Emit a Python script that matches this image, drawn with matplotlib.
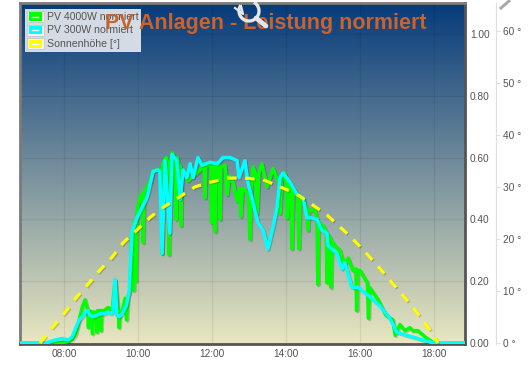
import numpy as np
import matplotlib
matplotlib.use('Agg')
import matplotlib.pyplot as plt
import matplotlib.patheffects as pe
from matplotlib.colors import LinearSegmentedColormap
from matplotlib.patches import Rectangle, Arc
from matplotlib.lines import Line2D

plt.rcParams['font.family'] = ['Liberation Sans', 'DejaVu Sans']

# hours of day / normalised power
green_h = [6.81, 7.89, 8.11, 8.22, 8.32, 8.41, 8.49, 8.57, 8.64, 8.66, 8.68, 8.75, 8.77, 8.79, 8.87, 8.89, 8.91, 8.98,
           9.0, 9.02, 9.08, 9.19, 9.3, 9.38, 9.47, 9.49, 9.51, 9.57, 9.65, 9.69, 9.73, 9.78, 9.83, 9.85, 9.88, 9.90,
           9.93, 9.95, 9.97, 10.0, 10.08, 10.12, 10.14, 10.16, 10.22, 10.32, 10.40, 10.49, 10.60, 10.63, 10.65, 10.67,
           10.76, 10.82, 10.84, 10.86, 10.93, 10.98, 11.03, 11.05, 11.10, 11.14, 11.16, 11.18, 11.27, 11.35, 11.54,
           11.68, 11.76, 11.79, 11.81, 11.83, 11.95, 11.97, 11.99, 12.01, 12.07, 12.09, 12.11, 12.16, 12.20, 12.22,
           12.24, 12.35, 12.41, 12.46, 12.57, 12.68, 12.75, 12.78, 12.82, 12.89, 12.98, 13.03, 13.06, 13.11, 13.17,
           13.22, 13.27, 13.35, 13.49, 13.65, 13.78, 13.82, 13.84, 13.88, 13.97, 14.01, 14.03, 14.06, 14.13, 14.16,
           14.19, 14.24, 14.32, 14.35, 14.38, 14.46, 14.57, 14.59, 14.62, 14.78, 14.84, 14.86, 14.88, 15.0, 15.09,
           15.11, 15.13, 15.20, 15.22, 15.24, 15.32, 15.46, 15.57, 15.68, 15.81, 15.89, 15.91, 15.93, 16.0, 16.20,
           16.23, 16.26, 16.49, 16.7, 16.89, 16.95, 17.08, 17.22, 17.35, 17.43, 17.57, 17.76, 18.0, 18.84]
green_v = [0, 0, .005, .012, .03, .075, .115, .14, .105, .05, .105, .10, .03, .10, .10, .035, .105, .105,
           .04, .105, .105, .115, .105, .205, .10, .05, .10, .10, .145, .075, .15, .17, .36, .35, .17, .38,
           .40, .20, .42, .445, .48, .48, .325, .49, .50, .52, .555, .56, .56, .56, .29, .58,
           .60, .58, .285, .58, .615, .60, .40, .60, .58, .57, .38, .55, .55, .525, .545,
           .56, .58, .57, .47, .57, .58, .58, .39, .57, .575, .36, .57, .58, .57, .40,
           .57, .575, .48, .54, .52, .46, .50, .41, .50, .495, .48, .335, .50, .57, .55,
           .42, .55, .58, .505, .565, .525, .52, .42, .53, .55, .52, .405, .51, .50, .305,
           .49, .495, .48, .305, .47, .47, .43, .365, .43, .43, .40, .19, .39, .38, .36,
           .195, .35, .34, .18, .33, .315, .30, .25, .275, .235, .24, .105, .235, .235, .195,
           .08, .18, .14, .09, .075, .025, .06, .04, .05, .04, .04, .02, 0, 0]

cyan_h = [6.81, 7.49, 7.76, 7.95, 8.11, 8.22, 8.32, 8.41, 8.49, 8.57, 8.65, 8.70, 8.78, 8.89, 8.97, 9.08, 9.19, 9.27,
          9.32, 9.38, 9.41, 9.43, 9.49, 9.57, 9.68, 9.76, 9.81, 9.84, 9.97, 10.24, 10.41, 10.54, 10.59, 10.65, 10.73,
          10.86, 10.92, 11.05, 11.14, 11.22, 11.32, 11.41, 11.49, 11.62, 11.73, 11.95, 12.14, 12.30, 12.49, 12.68,
          12.73, 12.89, 12.97, 13.11, 13.24, 13.38, 13.51, 13.65, 13.76, 13.84, 13.92, 14.11, 14.30, 14.46, 14.57,
          14.70, 14.84, 14.97, 15.11, 15.14, 15.38, 15.51, 15.59, 15.78, 15.95, 16.22, 16.54, 16.81, 17.0, 17.27,
          17.70, 18.0, 18.84]
cyan_v = [0, 0, .01, .015, .01, .02, .05, .075, .085, .10, .105, .09, .085, .09, .095, .095, .10, .095,
          .10, .205, .14, .09, .085, .095, .12, .165, .285, .36, .405, .47, .555, .56, .555, .29, .59,
          .355, .61, .59, .465, .56, .535, .58, .535, .60, .575, .585, .58, .60, .60, .59,
          .535, .59, .52, .455, .39, .365, .305, .375, .44, .535, .55, .52, .48, .47, .405,
          .405, .40, .365, .355, .315, .29, .24, .26, .18, .18, .155, .12, .08, .035, .025,
          .01, 0, 0]

# sun height in degrees
sun_h = [7.35, 7.70, 8.03, 8.35, 8.65, 8.97, 9.30, 9.59, 9.92, 10.32, 10.68, 11.08, 11.54, 11.95, 12.43, 12.89,
         13.38, 13.84, 14.24, 14.65, 15.11, 15.78, 16.14, 16.46, 16.76, 17.08, 17.41, 17.70, 17.97, 18.11]
sun_deg = [0, 3.1, 5.9, 8.9, 11.3, 14.0, 16.5, 19.2, 21.4, 24.1, 26.1, 27.9, 30.0, 30.9, 31.7, 31.7,
           31.4, 30.0, 28.8, 26.9, 24.6, 20.2, 17.5, 15.0, 12.5, 9.8, 7.1, 4.4, 1.8, 0]

x_ticks = [8, 10, 12, 14, 16, 18]
x_labels = ['08:00', '10:00', '12:00', '14:00', '16:00', '18:00']
y_ticks = [0, 0.2, 0.4, 0.6, 0.8, 1.0]
deg_ticks = [0, 10, 20, 30, 40, 50, 60]
legend_names = ['PV 4000W normiert', 'PV 300W normiert', 'Sonnenhöhe [°]']
legend_cols = ['#00ff00', '#00ffff', '#ffff00']

W, H = 530, 373
TXT = '#545454'

fig = plt.figure(figsize=(W / 100, H / 100), dpi=100, facecolor='white')
ax = fig.add_axes([20 / W, 1 - 344 / H, 445 / W, 341 / H])


def px(x, y):
    return x / W, 1 - y / H


# background gradient
cmap = LinearSegmentedColormap.from_list('bg', ['#053a7a', '#e9e7c0'])
ax.imshow(np.linspace(0, 1, 256).reshape(-1, 1), cmap=cmap, extent=[0, 1, 0, 1], transform=ax.transAxes,
          aspect='auto', zorder=0)

shadow = [pe.SimpleLineShadow(offset=(0.8, -0.8), alpha=0.18, shadow_color='k'), pe.Normal()]
ax.plot(green_h, green_v, color='#00ff00', lw=2.5, zorder=3, solid_joinstyle='round', path_effects=shadow)
ax.plot(cyan_h, cyan_v, color='#00ffff', lw=2.5, zorder=4, solid_joinstyle='round', path_effects=shadow)

ax.set_xlim(6.81, 18.84)
ax.set_ylim(-0.003, 1.10)
ax.set_xticks(x_ticks)
ax.set_xticklabels(x_labels)
ax.grid(True, color='#000000', alpha=0.07, lw=0.9)
for side in ax.spines:
    ax.spines[side].set_linewidth(2)
    ax.spines[side].set_color('#7a7a7a')
ax.spines['bottom'].set_color('#555555')
ax.spines['right'].set_color('#555555')

# second y axis for the sun
ax2 = ax.twinx()
ax2.set_ylim(-0.003 * 59.4, 1.10 * 59.4)
ax2.plot(sun_h, sun_deg, color='#ffff00', lw=2.3, dashes=(3.0, 2.7), zorder=5, dash_capstyle='butt',
         path_effects=shadow)
ax2.set_yticks(deg_ticks)
ax2.set_yticklabels(['%d °' % v for v in deg_ticks])
ax2.tick_params(axis='y', length=3, width=0.7, color='#dddddd', labelsize=7.3, labelcolor=TXT, pad=2)
for side in ['left', 'top', 'bottom']:
    ax2.spines[side].set_visible(False)
ax2.spines['right'].set_position(('outward', 22.3))
ax2.spines['right'].set_color('#e0e0e0')
ax2.spines['right'].set_linewidth(0.9)

# twinx moves the ticks of ax back to the left, so set them here
ax.set_yticks(y_ticks)
ax.set_yticklabels(['%.2f' % v for v in y_ticks])
ax.yaxis.tick_right()
ax.tick_params(axis='both', length=0, labelsize=7.3, labelcolor=TXT, pad=3.5)

# legend box, drawn by hand
fig.add_artist(Rectangle(px(25, 52), 116 / W, 43 / H, transform=fig.transFigure, fc='#dfe4ea', ec='none',
                         alpha=0.95, zorder=6))
for i, (name, col) in enumerate(zip(legend_names, legend_cols)):
    yc = 16.5 + i * 13.7
    fig.add_artist(Rectangle(px(26.5, yc + 5.5), 17 / W, 11 / H, transform=fig.transFigure, fc='#f4f4f4',
                             ec='#cccccc', lw=0.8, zorder=7))
    fig.add_artist(Rectangle(px(28.5, yc + 4), 13 / W, 8 / H, transform=fig.transFigure, fc=col, ec='none', zorder=8))
    x0, y0 = px(32, yc)
    x1, y1 = px(38, yc)
    fig.add_artist(Line2D([x0, x1], [y0, y1], color='white', lw=1, zorder=9))
    tx, ty = px(47, yc)
    fig.text(tx, ty, name, fontsize=7.6, color=TXT, va='center', ha='left', zorder=9)

# title sits on top of the legend
tx, ty = px(266, 23)
fig.text(tx, ty, 'PV Anlagen - Leistung normiert', fontsize=15.5, fontweight='bold', color='#c8622e',
         ha='center', va='center', zorder=10)

# zoom icon over the title
ax_icon = fig.add_axes([0, 0, 1, 1], zorder=11)
ax_icon.set_xlim(0, W)
ax_icon.set_ylim(H, 0)
ax_icon.axis('off')
ax_icon.add_patch(Arc((249, 11), 20, 20, theta1=-60, theta2=215, color='#e6e6e6', lw=2.4))
ax_icon.plot([256, 266], [18, 26], color='#e6e6e6', lw=3.4, solid_capstyle='round')
ax_icon.plot([235, 243, 241], [8, 14, 6], color='#e6e6e6', lw=1.6)
ax_icon.plot([501, 509], [8, 1], color='#aaaaaa', lw=2.2)

fig.savefig('out.png', dpi=100, facecolor='white')
